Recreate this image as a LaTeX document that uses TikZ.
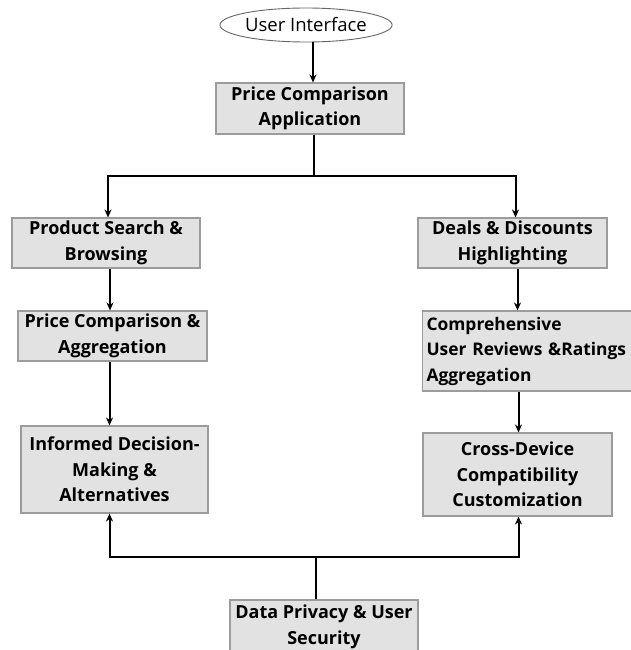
\documentclass[tikz,border=0pt]{standalone}
\usepackage{fontspec}
\setmainfont{Open Sans}
\usetikzlibrary{shapes.geometric,arrows.meta}
\definecolor{boxfill}{HTML}{E2E2E2}
\definecolor{boxline}{HTML}{9C9C9C}
\begin{document}
\begin{tikzpicture}[x=1pt,y=-1pt,
  box/.style={draw=boxline,line width=1.1pt,fill=boxfill,inner sep=0pt,
    align=center,font=\fontsize{18}{25.5}\selectfont\bfseries},
  arr/.style={line width=2pt,-{Stealth[length=8pt,width=7pt]}},
  conn/.style={line width=2pt}]
\useasboundingbox[fill=white] (0,0) rectangle (630,650);
\node[ellipse,draw=black!60,line width=0.9pt,minimum width=160pt,minimum height=34pt,inner sep=0pt,
  font=\fontsize{18.5}{20}\selectfont] (ui) at (306,25) {User Interface};
\node[box,minimum width=188pt,minimum height=51pt] (pca) at (310,108.5) {Price Comparison\\Application};
\node[box,minimum width=188pt,minimum height=50pt] (ps) at (106,243) {Product Search \&\\Browsing};
\node[box,minimum width=189pt,minimum height=50pt] (pcagg) at (112.5,336) {Price Comparison \&\\Aggregation};
\node[box,minimum width=187pt,minimum height=87pt] (idm) at (114.5,469.5) {Informed Decision-\\Making \&\\Alternatives};
\node[box,minimum width=189pt,minimum height=50pt] (deals) at (512.5,243) {Deals \& Discounts\\Highlighting};
\node[box,minimum width=212pt,minimum height=80pt,anchor=west,align=left,text width=206pt,
  font=\fontsize{17.4}{25.5}\selectfont\bfseries] (comp) at (422,351)
  {\mbox{\hspace*{1pt}Comprehensive}\\\mbox{\hspace*{1pt}User Reviews \&Ratings}\\\mbox{\hspace*{1pt}Aggregation}};
\node[box,minimum width=189pt,minimum height=83pt] (cd) at (517.5,474.5) {Cross-Device\\Compatibility\\Customization};
\node[box,minimum width=188pt,minimum height=54pt] (dp) at (324,627) {Data Privacy \& User\\Security};
\coordinate (split) at (314,176);
\coordinate (merge) at (316,557);
\draw[arr] ([xshift=7pt]ui.south) -- ([xshift=7pt]ui.south |- pca.north);
\draw[conn] ([xshift=4pt]pca.south) -- (split);
\draw[arr] (split) -| ([xshift=2pt]ps.north);
\draw[arr] (split) -| ([xshift=3pt]deals.north);
\draw[arr] ([xshift=4pt]ps.south) -- ([xshift=4pt]ps.south |- pcagg.north);
\draw[arr] ([xshift=-3pt]pcagg.south) -- ([xshift=-3pt]pcagg.south |- idm.north);
\draw[arr] ([xshift=5pt]deals.south) -- ([xshift=5pt]deals.south |- comp.north);
\draw[arr] ([xshift=1pt]cd.north |- comp.south) -- ([xshift=1pt]cd.north);
\draw[conn] ([xshift=-8pt]dp.north) -- (merge);
\draw[arr] (merge) -| ([xshift=-5pt]idm.south);
\draw[arr] (merge) -| ([xshift=1pt]cd.south);
\end{tikzpicture}
\end{document}
